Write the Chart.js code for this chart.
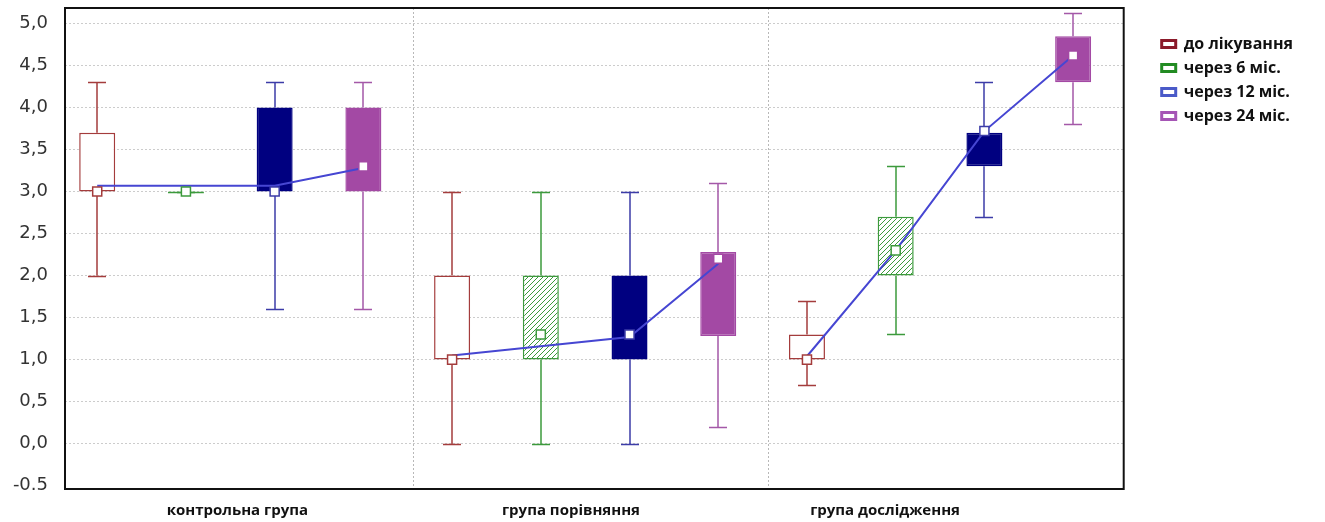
<!DOCTYPE html>
<html lang="uk">
<head>
<meta charset="utf-8">
<title>Динаміка показника</title>
<script src="https://cdn.jsdelivr.net/npm/chart.js@4.4.1/dist/chart.umd.min.js"></script>
<style>
  html, body { margin: 0; padding: 0; background: #fff; }
  #wrap { width: 1325px; height: 522px; position: relative; }
</style>
</head>
<body>
<div id="wrap"><canvas id="chart"></canvas></div>
<script>
const groups = ['контрольна група', 'група порівняння', 'група дослідження'];
const periods = ['до лікування', 'через 6 міс.', 'через 12 міс.', 'через 24 міс.'];

// one row per period, one value per group
const whiskerLow  = [[2.0, 0.0, 0.7], [3.0, 0.0, 1.3], [1.6, 0.0, 2.7], [1.6, 0.2, 3.8]];
const boxLow      = [[3.0, 1.0, 1.0], [3.0, 1.0, 2.0], [3.0, 1.0, 3.3], [3.0, 1.28, 4.3]];
const boxHigh     = [[3.7, 2.0, 1.3], [3.0, 2.0, 2.7], [4.0, 2.0, 3.7], [4.0, 2.28, 4.85]];
const whiskerHigh = [[4.3, 3.0, 1.7], [3.0, 3.0, 3.3], [4.3, 3.0, 4.3], [4.3, 3.1, 5.12]];
const medians     = [[3.0, 1.0, 1.0], [3.0, 1.3, 2.3], [3.0, 1.3, 3.72], [3.3, 2.2, 4.62]];
const means       = [[3.07, 1.05, 1.04], [3.07, 1.16, 2.3], [3.07, 1.27, 3.72], [3.28, 2.14, 4.62]];

const yTicks = [-0.5, 0, 0.5, 1, 1.5, 2, 2.5, 3, 3.5, 4, 4.5, 5];
const yTickLabels = ['-0.5', '0,0', '0,5', '1,0', '1,5', '2,0', '2,5', '3,0', '3,5', '4,0', '4,5', '5,0'];

const lineColors   = ['#a43c3c', '#3c9a3c', '#3c3ca8', '#a458a8'];
const legendColors = ['#8b1a2a', '#228b22', '#4a5ac8', '#a555b5'];
const meanColor = '#4646d2';

// group separators and caption anchors on the slot axis
const separatorsAt = [3.57, 7.57];
const captionsAt = [1.58, 5.34, 8.88];

const slot = (g, s) => g * 4 + s;

function hatch(color) {
  const c = document.createElement('canvas');
  c.width = c.height = 5;
  const g = c.getContext('2d');
  g.fillStyle = '#fff';
  g.fillRect(0, 0, 5, 5);
  g.strokeStyle = color;
  g.lineWidth = 1;
  g.beginPath();
  g.moveTo(0, 5); g.lineTo(5, 0);
  g.moveTo(-1, 1); g.lineTo(1, -1);
  g.moveTo(4, 6); g.lineTo(6, 4);
  g.stroke();
  return g.createPattern(c, 'repeat');
}

const boxFills = ['#ffffff', hatch('#3c9a3c'), '#000080', '#a349a4'];
const boxBorders = ['#a43c3c', '#3c9a3c', '#000080', '#a349a4'];

const boxSets = periods.map((p, s) => ({
  type: 'bar',
  label: p,
  data: groups.map((g, gi) => ({ x: slot(gi, s), y: [boxLow[s][gi], boxHigh[s][gi]] })),
  backgroundColor: boxFills[s],
  borderColor: boxBorders[s],
  borderWidth: 1.5,
  borderSkipped: false,
  grouped: false,
  maxBarThickness: 36,
  minBarLength: 2,
  order: 2
}));

const medianSets = periods.map((p, s) => ({
  type: 'scatter',
  label: p + ' (медіана)',
  data: groups.map((g, gi) => ({ x: slot(gi, s), y: medians[s][gi] })),
  pointStyle: 'rect',
  pointRadius: 6.4,
  pointBackgroundColor: '#fff',
  pointBorderColor: s === 2 ? '#3c3ca8' : boxBorders[s],
  pointBorderWidth: 1.5,
  order: 0
}));

const meanPoints = [];
groups.forEach((g, gi) => periods.forEach((p, s) => meanPoints.push({ x: slot(gi, s), y: means[s][gi] })));

const meanSet = {
  type: 'line',
  label: 'середнє',
  data: meanPoints,
  borderColor: meanColor,
  borderWidth: 2,
  pointRadius: 0,
  tension: 0,
  segment: { borderColor: c => (c.p0DataIndex % 4 === 3 ? 'rgba(0,0,0,0)' : undefined) },
  order: 1
};

// whiskers and caps, under the boxes
const boxWhiskers = {
  id: 'boxWhiskers',
  beforeDatasetsDraw(chart) {
    const { ctx, scales: { x, y } } = chart;
    ctx.save();
    ctx.lineWidth = 1.5;
    periods.forEach((p, s) => {
      ctx.strokeStyle = lineColors[s];
      groups.forEach((g, gi) => {
        const px = Math.round(x.getPixelForValue(slot(gi, s)));
        const seg = (a, b) => {
          ctx.moveTo(px, y.getPixelForValue(a));
          ctx.lineTo(px, y.getPixelForValue(b));
        };
        const cap = v => {
          const py = Math.round(y.getPixelForValue(v)) + 0.5;
          ctx.moveTo(px - 9, py);
          ctx.lineTo(px + 9, py);
        };
        ctx.beginPath();
        seg(whiskerLow[s][gi], boxLow[s][gi]);
        seg(boxHigh[s][gi], whiskerHigh[s][gi]);
        cap(whiskerLow[s][gi]);
        cap(whiskerHigh[s][gi]);
        ctx.stroke();
      });
    });
    ctx.restore();
  }
};

const plotFrame = {
  id: 'plotFrame',
  afterDatasetsDraw(chart) {
    const { ctx, chartArea: a } = chart;
    ctx.save();
    ctx.strokeStyle = '#111';
    ctx.lineWidth = 2;
    ctx.strokeRect(a.left, a.top, a.width, a.height);
    ctx.restore();
  }
};

new Chart(document.getElementById('chart'), {
  data: { datasets: [...medianSets, meanSet, ...boxSets] },
  options: {
    responsive: true,
    maintainAspectRatio: false,
    animation: false,
    events: [],
    layout: { padding: { top: 8, right: 22, bottom: 0, left: 0 } },
    scales: {
      x: {
        type: 'linear',
        offset: false,
        min: -0.363,
        max: 11.57,
        afterBuildTicks: scale => {
          scale.ticks = [...captionsAt, ...separatorsAt].sort((a, b) => a - b).map(v => ({ value: v }));
        },
        afterFit: scale => {
          scale.height = 33;
          scale.paddingLeft = 0;
          scale.paddingRight = 0;
        },
        grid: {
          offset: false,
          drawTicks: false,
          color: c => (c.tick && separatorsAt.includes(c.tick.value) ? '#b8b8b8' : 'rgba(0,0,0,0)')
        },
        border: { display: false, dash: [2, 2] },
        ticks: {
          autoSkip: false,
          maxRotation: 0,
          minRotation: 0,
          padding: 13,
          color: '#111',
          font: { family: 'Open Sans', size: 15, weight: 'bold' },
          callback: v => {
            const i = captionsAt.indexOf(v);
            return i >= 0 ? groups[i] : '';
          }
        }
      },
      y: {
        type: 'linear',
        min: -0.54,
        max: 5.185,
        afterBuildTicks: scale => { scale.ticks = yTicks.map(v => ({ value: v })); },
        afterFit: scale => {
          scale.width = 65;
          scale.paddingTop = 0;
          scale.paddingBottom = 0;
        },
        grid: {
          drawTicks: false,
          color: c => (c.tick && c.tick.value < 0 ? 'rgba(0,0,0,0)' : '#cccccc')
        },
        border: { display: false, dash: [2, 2] },
        ticks: {
          padding: 17,
          color: '#333',
          font: { family: 'DejaVu Sans', size: 18 },
          callback: (v, i) => yTickLabels[i]
        }
      },
      yPad: {
        type: 'linear',
        position: 'right',
        grid: { display: false },
        border: { display: false },
        ticks: { display: false },
        afterFit: scale => {
          scale.width = 30;
          scale.paddingTop = 0;
          scale.paddingBottom = 0;
        }
      }
    },
    plugins: {
      tooltip: { enabled: false },
      legend: {
        position: 'right',
        align: 'start',
        onClick: null,
        title: { display: true, text: '', font: { size: 10 }, padding: { top: 8, bottom: 0 } },
        labels: {
          boxWidth: 14,
          boxHeight: 7,
          padding: 8,
          color: '#111',
          font: { family: 'Open Sans', size: 16, weight: 'bold' },
          generateLabels: () => periods.map((p, i) => ({
            text: p,
            fillStyle: '#fff',
            strokeStyle: legendColors[i],
            fontColor: '#111',
            lineWidth: 3,
            hidden: false
          }))
        }
      }
    }
  },
  plugins: [boxWhiskers, plotFrame]
});
</script>
</body>
</html>
